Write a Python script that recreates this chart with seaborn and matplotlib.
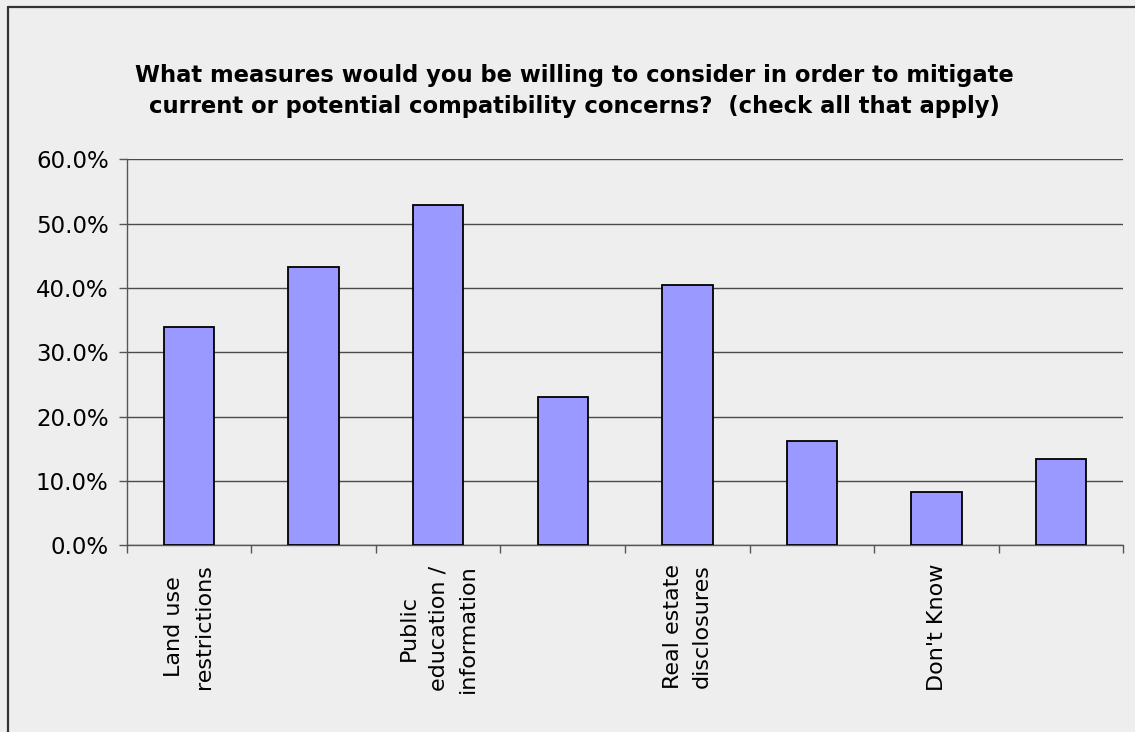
import matplotlib
matplotlib.use("Agg")
import matplotlib.pyplot as plt
from matplotlib.lines import Line2D
from matplotlib.ticker import FixedLocator, PercentFormatter
import seaborn as sns
import pandas as pd

# ---- data ----
positions = [0, 1, 2, 3, 4, 5, 6, 7]
values = [33.9, 43.3, 52.9, 23.0, 40.5, 16.2, 8.2, 13.4]
tick_labels = ["Land use\nrestrictions", "", "Public\neducation /\ninformation", "",
               "Real estate\ndisclosures", "", "Don't Know", ""]
y_ticks = [0, 10, 20, 30, 40, 50, 60]
title = ("What measures would you be willing to consider in order to mitigate\n"
         "current or potential compatibility concerns?  (check all that apply)")

df = pd.DataFrame({"pos": positions, "value": values})

sns.set_theme(style="white")
plt.rcParams["font.family"] = ["DejaVu Sans"]

bg = "#eeeeee"
fig = plt.figure(figsize=(11.35, 7.32), dpi=100, facecolor=bg)
ax = fig.add_axes([126.7 / 1135, 1 - 545.2 / 732, (1123.5 - 126.7) / 1135, (545.2 - 159.3) / 732])
ax.set_facecolor(bg)

sns.barplot(data=df, x="pos", y="value", ax=ax, color="#9999ff", saturation=1,
            width=0.406, edgecolor="black", linewidth=1.3, zorder=3)

ax.set_xlim(-0.5, 7.5)
ax.set_ylim(0, 60)
ax.set_yticks(y_ticks)
ax.yaxis.set_major_formatter(PercentFormatter(decimals=1))
ax.grid(axis="y", color="#4a4a4a", linewidth=1.0, zorder=0)
ax.grid(axis="x", visible=False)

# category boundary ticks (major, no labels), labels on minor ticks at centers
ax.xaxis.set_major_locator(FixedLocator([i - 0.5 for i in range(9)]))
ax.xaxis.set_major_formatter(plt.NullFormatter())
ax.xaxis.set_minor_locator(FixedLocator(positions))
ax.set_xticklabels(tick_labels, minor=True, rotation=90, fontsize=16,
                   ha="center", va="top", multialignment="center", color="black",
                   linespacing=1.6)
ax.tick_params(axis="x", which="major", direction="out", length=6, width=1, color="#555555", bottom=True)
ax.tick_params(axis="x", which="minor", length=0, pad=13.5)
ax.tick_params(axis="y", direction="out", length=6, width=1, color="#555555", left=True,
               labelsize=16.5, pad=7, labelcolor="black")

for s in ["top", "right"]:
    ax.spines[s].set_visible(False)
for s in ["left", "bottom"]:
    ax.spines[s].set_color("#555555")
    ax.spines[s].set_linewidth(1.0)
ax.set_xlabel("")
ax.set_ylabel("")

fig.text(574 / 1135, 1 - 91 / 732, title, ha="center", va="center", fontsize=16.3,
         fontweight="bold", color="black", linespacing=1.4)

# outer chart border (left and top visible)
bx = 8.3 / 1135
by = 1 - 6.7 / 732
fig.add_artist(Line2D([bx, bx], [0, by], transform=fig.transFigure, color="#333333", linewidth=1.6))
fig.add_artist(Line2D([bx, 1], [by, by], transform=fig.transFigure, color="#333333", linewidth=1.6))

fig.savefig("out.png", dpi=100, facecolor=bg)
